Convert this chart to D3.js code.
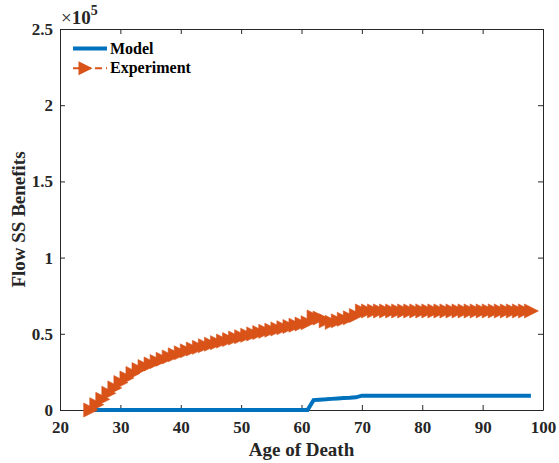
<!DOCTYPE html>
<html><head><meta charset="utf-8">
<script src="https://cdn.jsdelivr.net/npm/d3@7"></script>
<style>body{margin:0;background:#fff;} svg{display:block;} text{font-family:"Liberation Serif","Times New Roman",serif;font-weight:bold;}</style>
</head><body>
<script>
const ages = d3.range(25, 99);
const modelValues = [
  0,0,0,0,0,0,0,0,0,0, 0,0,0,0,0,0,0,0,0,0, 0,0,0,0,0,0,0,0,0,0, 0,0,0,0,0,0,0, // 25..61
  6500,6800,7000,7300,7600,7800,8000,8300, // 62..69
  9400,9400,9400,9400,9400,9400,9400,9400,9400,9400,9400,9400,9400,9400,9400,9400,9400,9400,9400,9400,9400,9400,9400,9400,9400,9400,9400,9400,9400 // 70..98
];
const experimentValues = [
  0,3500,7000,11000,14500,18000,21000,24000,26500,28500, // 25..34
  30200,31800,33300,34800,36200,37500,38800,40000,41100,42200, // 35..44
  43200,44200,45200,46200,47200,48100,49000,49900,50800,51600, // 45..54
  52400,53200,54000,54800,55600,56400,57300,61000,60300,58500, // 55..64
  57500,58500,59500,60500,62000,65000, // 65..70
  65000,65000,65000,65000,65000,65000,65000,65000,65000,65000,65000,65000,65000,65000, // 71..84
  65000,65000,65000,65000,65000,65000,65000,65000,65000,65000,65000,65000,65000,65000  // 85..98
];
const xTicks = [20,30,40,50,60,70,80,90,100];
const yTicks = [0,0.5e5,1e5,1.5e5,2e5,2.5e5];
const yTickLabels = ["0","0.5","1","1.5","2","2.5"];
const seriesNames = ["Model","Experiment"];
const colors = ["#0072BD","#D95319"];

const W=559,H=463;
const m={l:60,r:16,t:29,b:53};
const svg=d3.select("body").append("svg").attr("width",W).attr("height",H);
const x=d3.scaleLinear().domain([20,100]).range([m.l,W-m.r]);
const y=d3.scaleLinear().domain([0,2.5e5]).range([H-m.b,m.t]);
const axisCol="#262626";

const gx=svg.append("g").attr("transform",`translate(0,${H-m.b})`)
  .call(d3.axisBottom(x).tickValues(xTicks).tickSizeInner(-5).tickSizeOuter(0).tickPadding(11));
const gxt=svg.append("g").attr("transform",`translate(0,${m.t})`)
  .call(d3.axisTop(x).tickValues(xTicks).tickSizeInner(-5).tickSizeOuter(0).tickFormat(""));
const gy=svg.append("g").attr("transform",`translate(${m.l},0)`)
  .call(d3.axisLeft(y).tickValues(yTicks).tickSizeInner(-5).tickSizeOuter(0).tickPadding(7).tickFormat((d,i)=>yTickLabels[i]));
const gyr=svg.append("g").attr("transform",`translate(${W-m.r},0)`)
  .call(d3.axisRight(y).tickValues(yTicks).tickSizeInner(-5).tickSizeOuter(0).tickFormat(""));
[gx,gxt,gy,gyr].forEach(g=>{
  g.attr("font-family",null).attr("font-size",null);
  g.selectAll("path").attr("stroke",axisCol).attr("stroke-width",1);
  g.selectAll("line").attr("stroke",axisCol);
  g.selectAll("text").attr("fill",axisCol).style("font-size","17px");
});

const lineM=d3.line().x((d,i)=>x(ages[i])).y(d=>y(d));
svg.append("path").datum(modelValues).attr("d",lineM).attr("fill","none")
  .attr("stroke",colors[0]).attr("stroke-width",4);
svg.append("path").datum(experimentValues).attr("d",lineM).attr("fill","none")
  .attr("stroke",colors[1]).attr("stroke-width",2).attr("stroke-dasharray","6,4");
const tri=(cx,cy)=>`M${cx-6.5},${cy-7}L${cx+7.5},${cy}L${cx-6.5},${cy+7}Z`;
svg.append("g").selectAll("path").data(experimentValues).join("path")
  .attr("d",(d,i)=>tri(x(ages[i]),y(d))).attr("fill",colors[1]).attr("stroke",colors[1]).attr("stroke-width",0.6);

const lg=svg.append("g");
lg.append("line").attr("x1",73).attr("x2",107).attr("y1",48.5).attr("y2",48.5).attr("stroke",colors[0]).attr("stroke-width",4);
lg.append("line").attr("x1",73).attr("x2",107).attr("y1",68.3).attr("y2",68.3).attr("stroke",colors[1]).attr("stroke-width",2).attr("stroke-dasharray","7,4");
lg.append("path").attr("d",tri(85,68.3)).attr("fill",colors[1]);
lg.selectAll("text").data(seriesNames).join("text")
  .attr("x",110).attr("y",(d,i)=>53.5+i*19.5).text(d=>d)
  .attr("fill","#000").style("font-size","16px");

const ex=svg.append("text").attr("x",61).attr("y",24).attr("fill",axisCol).style("font-size","19px");
ex.append("tspan").text("×").style("font-weight","normal");
ex.append("tspan").text("10");
ex.append("tspan").text("5").attr("dy",-9).style("font-size","14px");

svg.append("text").attr("x",(m.l+W-m.r)/2).attr("y",456).attr("text-anchor","middle")
  .attr("fill",axisCol).style("font-size","19px").text("Age of Death");
svg.append("text").attr("transform",`translate(25,${(m.t+H-m.b)/2}) rotate(-90)`).attr("text-anchor","middle")
  .attr("fill",axisCol).style("font-size","19px").text("Flow SS Benefits");
</script>
</body></html>
